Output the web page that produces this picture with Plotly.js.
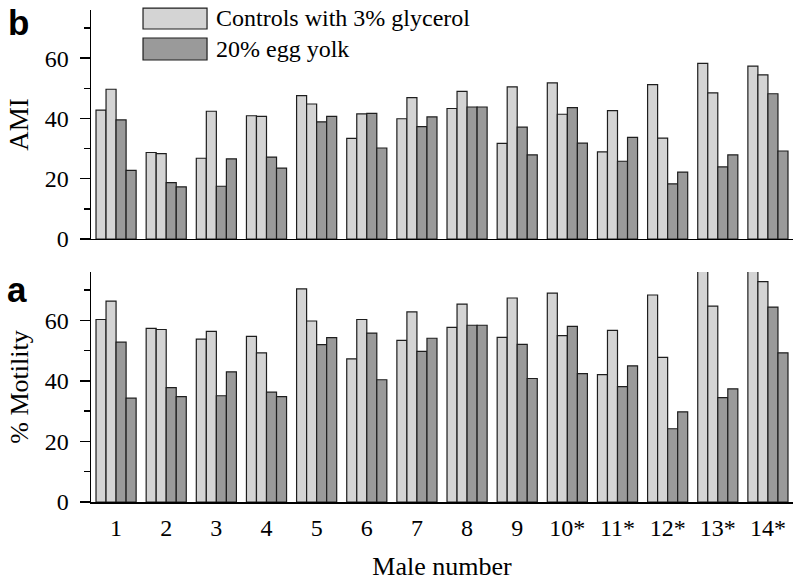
<!DOCTYPE html>
<html>
<head>
<meta charset="utf-8">
<script src="https://cdn.plot.ly/plotly-3.0.1.min.js"></script>
<style>html,body{margin:0;padding:0;background:#fff}#chart{width:800px;height:584px}</style>
</head>
<body>
<div id="chart"></div>
<script>
const males = ["1","2","3","4","5","6","7","8","9","10*","11*","12*","13*","14*"];
// AMI (panel b)
const amiCtrl1 = [42.8,28.7,26.8,40.9,47.6,33.4,39.9,43.3,31.7,51.8,28.9,51.2,58.3,57.4];
const amiCtrl2 = [49.7,28.3,42.4,40.7,44.8,41.5,46.9,49.0,50.5,41.4,42.6,33.5,48.5,54.5];
const amiEgg1  = [39.5,18.7,17.5,27.2,38.9,41.7,37.3,43.8,37.1,43.6,25.8,18.3,23.9,48.2];
const amiEgg2  = [22.8,17.3,26.6,23.5,40.7,30.2,40.5,43.8,27.9,31.8,33.7,22.2,27.9,29.2];
// % Motility (panel a)
const motCtrl1 = [60.3,57.4,53.8,54.7,70.4,47.3,53.4,57.7,54.4,69.0,42.1,68.4,80.0,82.0];
const motCtrl2 = [66.4,57.0,56.4,49.3,59.8,60.3,62.8,65.4,67.4,55.0,56.7,47.8,64.7,72.8];
const motEgg1  = [52.8,37.8,35.1,36.3,52.0,55.8,49.8,58.4,52.1,58.0,38.1,24.2,34.5,64.4];
const motEgg2  = [34.3,34.8,43.0,34.8,54.3,40.4,54.1,58.4,40.8,42.4,45.0,29.8,37.4,49.3];
const legendLabels = ["Controls with 3% glycerol","20% egg yolk"];

const light = "#d4d4d4", dark = "#9a9a9a", edge = "#1e1e1e";
function bar(y, color, xa, ya){
  return {type:"bar", x:males, y:y, xaxis:xa, yaxis:ya, showlegend:false,
    marker:{color:color, line:{color:edge, width:1.2}}, hoverinfo:"y"};
}
const data = [
  bar(amiCtrl1, light, "x", "y"), bar(amiCtrl2, light, "x", "y"),
  bar(amiEgg1, dark, "x", "y"), bar(amiEgg2, dark, "x", "y"),
  bar(motCtrl1, light, "x2", "y2"), bar(motCtrl2, light, "x2", "y2"),
  bar(motEgg1, dark, "x2", "y2"), bar(motEgg2, dark, "x2", "y2")
];
const serif = "Liberation Serif, Times New Roman, serif";
const yCommon = {range:[0,76], tickvals:[0,20,40,60], ticks:"outside", ticklen:10, tickwidth:1.5,
  tickcolor:"#000", showline:true, linecolor:"#000", linewidth:1.5, showgrid:false, zeroline:false,
  minor:{tickvals:[10,30,50,70], ticks:"outside", ticklen:6, tickwidth:1.5, tickcolor:"#000"},
  tickfont:{family:serif, size:24, color:"#000"}, ticklabelstandoff:6, fixedrange:true};
const xCommon = {type:"category", range:[-0.5,13.5], showline:true, linecolor:"#000", linewidth:1.5,
  ticks:"", showgrid:false, zeroline:false, fixedrange:true};
const layout = {
  width:800, height:584, margin:{l:91, r:7, t:10, b:82},
  paper_bgcolor:"#fff", plot_bgcolor:"#fff",
  barmode:"group", bargap:0.2, bargroupgap:0,
  font:{family:serif, color:"#000"},
  xaxis:Object.assign({}, xCommon, {domain:[0,1], anchor:"y", showticklabels:false}),
  yaxis:Object.assign({}, yCommon, {domain:[0.5346,1], anchor:"x",
    title:{text:"AMI", font:{family:serif, size:27}, standoff:8}}),
  xaxis2:Object.assign({}, xCommon, {domain:[0,1], anchor:"y2", showticklabels:true,
    tickfont:{family:serif, size:24, color:"#000"}, ticklabelstandoff:4,
    title:{text:"Male number", font:{family:serif, size:26}, standoff:16}}),
  yaxis2:Object.assign({}, yCommon, {domain:[0,0.4675], anchor:"x2",
    title:{text:"% Motility", font:{family:serif, size:26}, standoff:8}}),
  shapes:[
    {type:"rect", xref:"paper", yref:"paper", x0:0.0741, x1:0.1653, y0:0.9614, y1:1.004,
      fillcolor:light, line:{color:edge, width:1.2}},
    {type:"rect", xref:"paper", yref:"paper", x0:0.0741, x1:0.1653, y0:0.8984, y1:0.9431,
      fillcolor:dark, line:{color:edge, width:1.2}}
  ],
  annotations:[
    {xref:"paper", yref:"paper", x:0.1753, y:0.9837, xanchor:"left", yanchor:"middle",
      text:legendLabels[0], showarrow:false, font:{family:serif, size:24, color:"#000"}},
    {xref:"paper", yref:"paper", x:0.1753, y:0.9207, xanchor:"left", yanchor:"middle",
      text:legendLabels[1], showarrow:false, font:{family:serif, size:24, color:"#000"}},
    {xref:"paper", yref:"paper", x:-0.1026, y:0.9756, xanchor:"center", yanchor:"middle",
      text:"<b>b</b>", showarrow:false, font:{family:"Liberation Sans, Arial, sans-serif", size:35, color:"#000"}},
    {xref:"paper", yref:"paper", x:-0.1055, y:0.4329, xanchor:"center", yanchor:"middle",
      text:"<b>a</b>", showarrow:false, font:{family:"Liberation Sans, Arial, sans-serif", size:35, color:"#000"}}
  ]
};
Plotly.newPlot("chart", data, layout, {displayModeBar:false, staticPlot:true});
</script>
</body>
</html>
